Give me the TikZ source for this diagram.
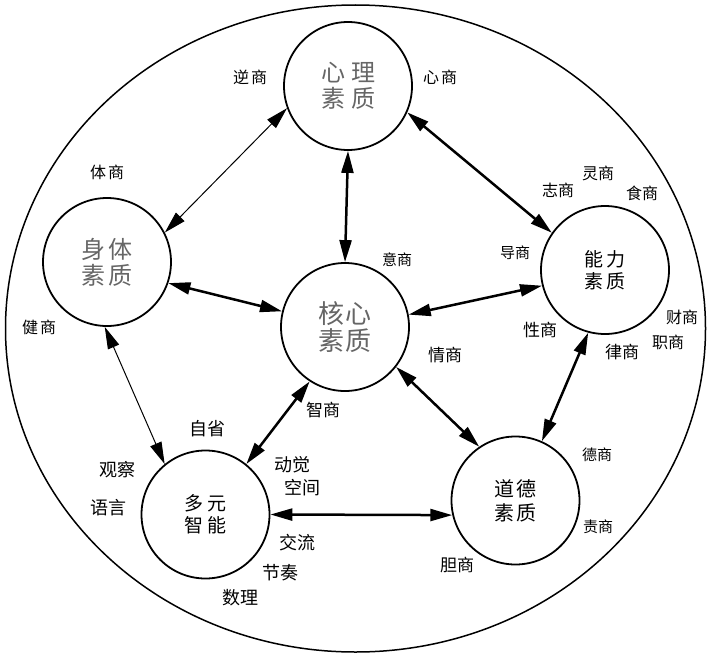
\documentclass[tikz,border=0pt]{standalone}
\usepackage{fontspec}
\setmainfont{Noto Sans CJK SC}
\usetikzlibrary{arrows.meta}
\begin{document}
\begin{tikzpicture}[x=1pt,y=-1pt,
  qual/.style={circle,draw,line width=1.8pt,minimum size=128pt,inner sep=0pt,align=center},
  big/.style={font=\fontsize{24}{26}\selectfont,text=black!60},
  mid/.style={font=\fontsize{19}{22}\selectfont},
  lbl/.style={font=\fontsize{16}{16}\selectfont,inner sep=0pt},
  sublbl/.style={font=\fontsize{18}{18}\selectfont,inner sep=0pt},
  heavylink/.style={line width=2.5pt,{Triangle[length=22pt,width=12pt]}-{Triangle[length=22pt,width=12pt]}},
  lightlink/.style={line width=1pt,{Triangle[length=22pt,width=12pt]}-{Triangle[length=22pt,width=12pt]}}
]
\useasboundingbox (0,0) rectangle (709,661);
\fill[white] (0,0) rectangle (709,661);
% outer boundary
\draw[line width=1.5pt] (355.5,328.5) ellipse [x radius=350, y radius=323.5];

% circles
\node[qual,big] (xinli) at (348,86) {心\hspace{6pt}理\\素\hspace{6pt}质};
\node[qual,big] (shenti) at (107,262) {身\hspace{3pt}体\\素\hspace{3pt}质};
\node[qual,big,font=\fontsize{26}{27}\selectfont] (hexin) at (345,327) {核\hspace{1pt}心\\素\hspace{1pt}质};
\node[qual,mid] (nengli) at (605,270) {能\hspace{3pt}力\\素\hspace{3pt}质};
\node[qual,mid] (duoyuan) at (205.5,514.5) {多\hspace{4pt}元\\智\hspace{4pt}能};
\node[qual,mid,font=\fontsize{20}{24}\selectfont] (daode) at (515.5,500.5) {道\hspace{2pt}德\\素\hspace{2pt}质};

% connectors
\draw[lightlink] (xinli.200) -- (shenti.27);
\draw[heavylink] (xinli.south) -- (hexin.north);
\draw[heavylink] (xinli.336) -- (nengli.145);
\draw[heavylink] (shenti.341) -- (hexin.166);
\draw[heavylink] (hexin.11) -- (nengli.194);
\draw[lightlink] (shenti.268) -- (duoyuan.129);
\draw[heavylink] (hexin.237) -- (duoyuan.51);
\draw[heavylink] (hexin.322) -- (daode.124);
\draw[heavylink] (nengli.255) -- (daode.66);
\draw[heavylink] (duoyuan.east) -- (daode.193);

% labels
\node[lbl] (nishang) at (250,77) {逆\hspace{2pt}商};
\node[lbl] (xinshang) at (440,77) {心\hspace{2pt}商};
\node[lbl] (tishang) at (107,172) {体\hspace{2pt}商};
\node[lbl] (jianshang) at (39,327) {健\hspace{2pt}商};
\node[lbl,font=\fontsize{15}{15}\selectfont] (yishang) at (397,260) {意商};
\node[lbl,font=\fontsize{17}{17}\selectfont] (qingshang) at (445,355) {情商};
\node[lbl,font=\fontsize{17}{17}\selectfont] (zhishang) at (323,410) {智商};
\node[lbl,font=\fontsize{15}{15}\selectfont] (daoshang) at (515,253) {导商};
\node[lbl] (zhishang2) at (558,190) {志商};
\node[lbl] (lingshang) at (598,173) {灵商};
\node[lbl] (shishang) at (642,193) {食商};
\node[lbl,font=\fontsize{17}{17}\selectfont] (xingshang) at (540,330) {性商};
\node[lbl] (caishang) at (682,317) {财商};
\node[lbl] (zhishang3) at (668,342) {职商};
\node[lbl,font=\fontsize{17}{17}\selectfont] (lvshang) at (622,352) {律商};
\node[lbl,font=\fontsize{15}{15}\selectfont] (deshang) at (597,455) {德商};
\node[lbl,font=\fontsize{15}{15}\selectfont] (zeshang) at (598,527) {责商};
\node[lbl,font=\fontsize{17}{17}\selectfont] (danshang) at (457,565) {胆商};
\node[sublbl] (zixing) at (207,429) {自省};
\node[sublbl] (guancha) at (117,470) {观察};
\node[sublbl] (yuyan) at (108,508) {语言};
\node[sublbl] (dongjue) at (292,465) {动觉};
\node[sublbl] (kongjian) at (302,488) {空间};
\node[sublbl] (jiaoliu) at (297,543) {交流};
\node[sublbl] (jiezou) at (280,573) {节奏};
\node[sublbl] (shuli) at (240,598) {数理};
\end{tikzpicture}
\end{document}
